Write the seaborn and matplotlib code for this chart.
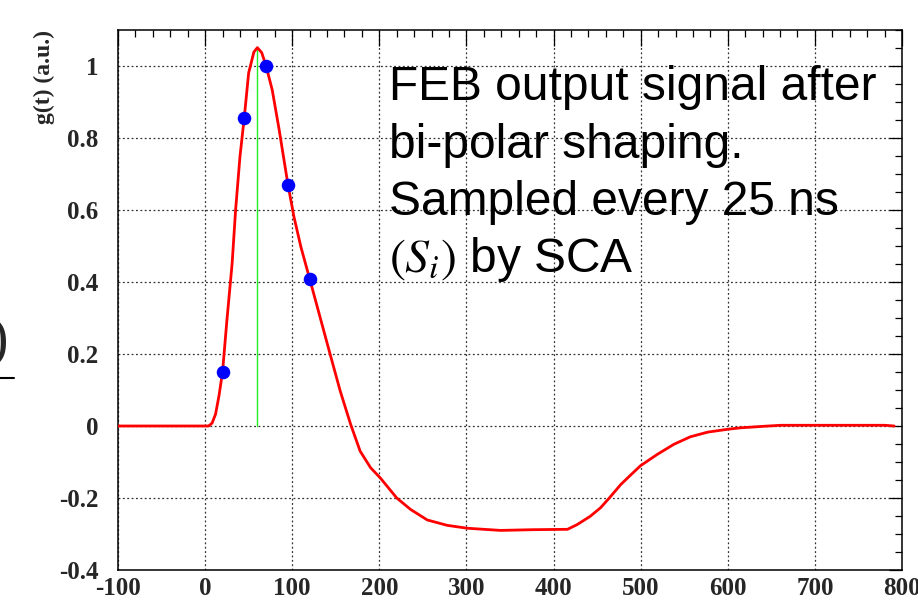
import matplotlib
matplotlib.use('Agg')
import matplotlib.pyplot as plt
from matplotlib.ticker import MultipleLocator, FuncFormatter
from matplotlib.lines import Line2D
import seaborn as sns
import pandas as pd

# 讀取圖上的曲線點 (t in ns, g in a.u.)
t_curve = [-100, 0, 4, 8, 12, 16, 20, 25, 31, 35, 40, 45, 50, 56, 60, 65, 70, 77, 85,
           95, 102, 110, 120, 132, 144, 155, 167, 178, 190, 201, 220, 236, 255, 278,
           301, 339, 377, 416, 427, 442, 454, 464, 477, 489, 500, 519, 538, 557, 577,
           600, 615, 640, 661, 780, 791]
g_curve = [0, 0, 0, 0.008, 0.033, 0.085, 0.15, 0.293, 0.451, 0.6, 0.748, 0.858, 0.981,
           1.039, 1.051, 1.037, 1.0, 0.934, 0.823, 0.672, 0.581, 0.497, 0.409, 0.302,
           0.195, 0.098, 0.005, -0.07, -0.116, -0.144, -0.2, -0.232, -0.261, -0.276,
           -0.284, -0.29, -0.288, -0.287, -0.274, -0.251, -0.227, -0.2, -0.163, -0.135,
           -0.11, -0.079, -0.051, -0.03, -0.017, -0.009, -0.005, -0.001, 0.002, 0.002,
           0.0]

# SCA 取樣點 (每 25 ns)
t_samples = [20, 45, 70, 95, 120]
g_samples = [0.15, 0.855, 1.0, 0.67, 0.407]

# 峰值位置
t_peak = 60
g_peak = 1.051

text_lines = ['FEB output signal after', 'bi-polar shaping.',
              'Sampled every 25 ns', r'$(S_i)$ by SCA']

curve = pd.DataFrame({'t': t_curve, 'g': g_curve})
samples = pd.DataFrame({'t': t_samples, 'g': g_samples})

sns.set_style('white')
plt.rcParams['font.family'] = ['Liberation Serif', 'DejaVu Serif']
plt.rcParams['axes.unicode_minus'] = False
plt.rcParams['mathtext.fontset'] = 'stix'

fig = plt.figure(figsize=(9.18, 6.03), dpi=100)
ax = fig.add_axes([118 / 918, 1 - 570 / 603, 784 / 918, 540 / 603])

# 綠色峰值線
ax.plot([t_peak, t_peak], [0, g_peak], color='#22ee22', lw=1.0, zorder=2)

sns.lineplot(data=curve, x='t', y='g', ax=ax, color='red', lw=2.0,
             estimator=None, sort=False, zorder=3)
sns.scatterplot(data=samples, x='t', y='g', ax=ax, color='blue', s=95,
                edgecolor='blue', linewidth=0, zorder=4)

ax.set_xlim(-100, 800)
ax.set_ylim(-0.4, 1.1)
ax.xaxis.set_major_locator(MultipleLocator(100))
ax.xaxis.set_minor_locator(MultipleLocator(20))
ax.yaxis.set_major_locator(MultipleLocator(0.2))
ax.yaxis.set_minor_locator(MultipleLocator(0.05))
ax.yaxis.set_major_formatter(FuncFormatter(lambda v, p: f'{v:g}' if abs(v) > 1e-9 else '0'))

ax.grid(True, which='major', color='#333333', lw=0.9, ls=(0, (1.5, 2.0)))
ax.tick_params(which='both', direction='in', top=True, right=True, color='black')
ax.tick_params(axis='x', which='major', length=11.5, width=0.9, pad=5,
               labelsize=18)
ax.tick_params(axis='x', which='minor', length=5, width=0.9)
ax.tick_params(axis='y', which='major', length=9.5, width=0.9, pad=14,
               labelsize=18)
ax.tick_params(axis='y', which='minor', length=5, width=0.9)
for lab in ax.get_xticklabels() + ax.get_yticklabels():
    lab.set_fontweight('bold')
for sp in ax.spines.values():
    sp.set_color('black')
    sp.set_linewidth(1.1)

ax.set_xlabel('')
ax.set_ylabel('g(t) (a.u.)', fontsize=17, fontweight='bold', loc='top', labelpad=3)

baselines = [100, 158, 215, 272]
for line, yb in zip(text_lines, baselines):
    ax.text((389 - 118) / 784, (570 - yb) / 540, line, transform=ax.transAxes,
            fontsize=34.5, family=['Liberation Sans', 'DejaVu Sans'],
            ha='left', va='baseline', color='black', zorder=5)

# 左邊被裁切的公式殘片
fig.text(8 / 918, 1 - 356 / 603, ')', fontsize=40, family='Liberation Serif',
         ha='right', va='baseline')
fig.add_artist(Line2D([0, 14 / 918], [1 - 378 / 603, 1 - 378 / 603],
                      transform=fig.transFigure, color='black', lw=1.5))

fig.savefig('out.png', dpi=100)
